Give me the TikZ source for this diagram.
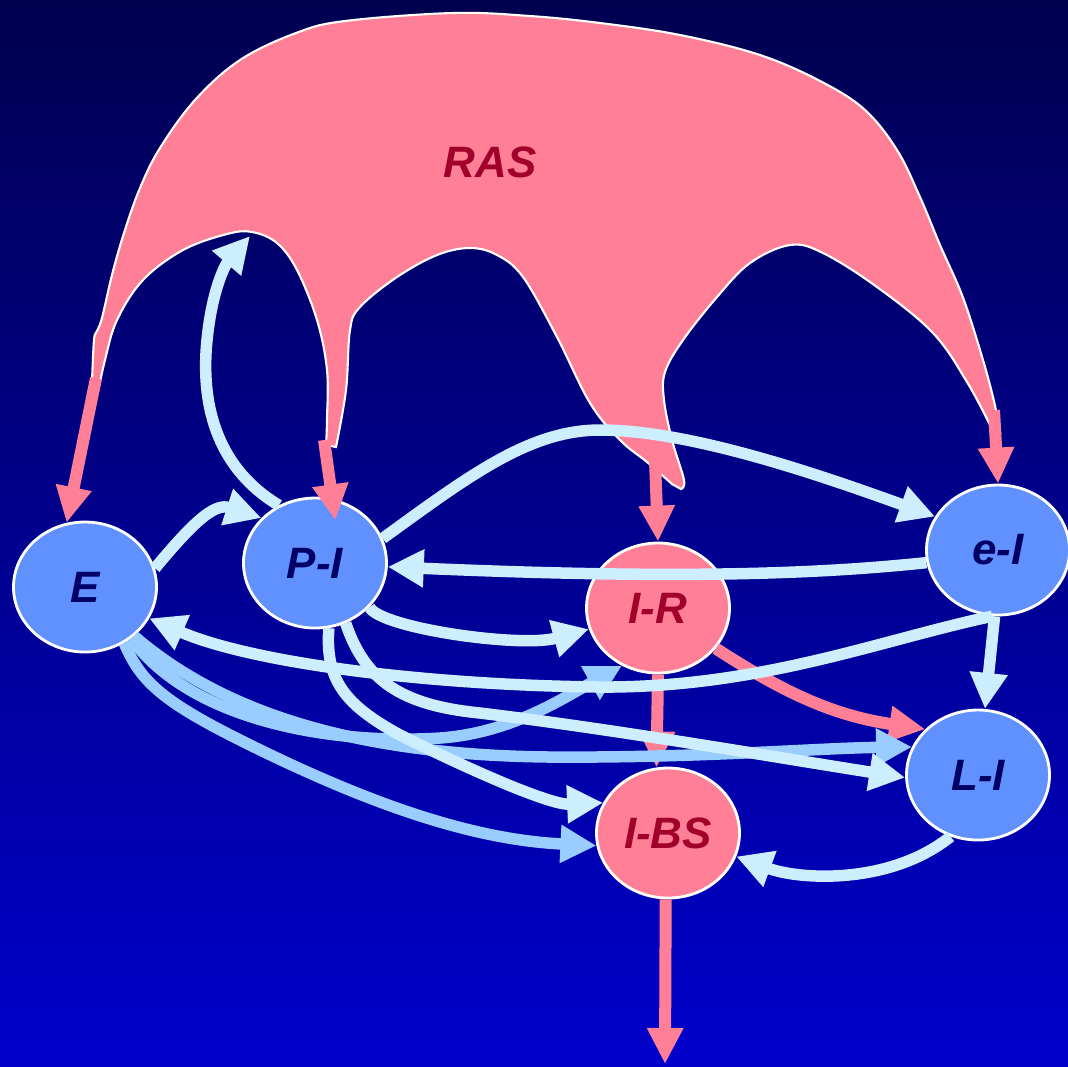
\documentclass[tikz,border=0pt]{standalone}
\usepackage{fontspec}
\setmainfont{Liberation Sans}
\usetikzlibrary{arrows.meta, shapes.geometric}
\definecolor{bgtop}{HTML}{000050}
\definecolor{bgbot}{HTML}{0000CC}
\definecolor{rascol}{HTML}{FF8096}
\definecolor{poolcol}{HTML}{6190FF}
\definecolor{navytxt}{HTML}{000066}
\definecolor{redtxt}{HTML}{A0002A}
\definecolor{lineA}{HTML}{CCEEFF}
\definecolor{lineB}{HTML}{99CCFF}
\tikzset{
  state/.style={ellipse, draw=white, line width=0.8pt, minimum width=14.3mm, minimum height=13mm, inner sep=0pt, font=\fontsize{12.5}{14}\selectfont\bfseries\itshape},
  pool/.style={state, fill=poolcol, text=navytxt},
  target/.style={state, fill=rascol, text=redtxt},
  ras/.style={fill=rascol, draw=white, line width=0.6pt},
  flow/.style={-{Triangle[length=3.6mm, width=3.6mm]}, line width=1.15mm, lineA},
  flowdk/.style={flow, lineB},
  action/.style={-{Triangle[length=3.6mm, width=3.4mm]}, line width=1.2mm, rascol},
}

\begin{document}
\begin{tikzpicture}[x=0.1mm, y=-0.1mm]
  \useasboundingbox (0,0) rectangle (1068,1066);
  \clip (0,0) rectangle (1068,1066);
  \shade[top color=bgtop, bottom color=bgbot] (0,0) rectangle (1068,1066);

  \filldraw[ras] plot[smooth, tension=0.6] coordinates {(92,382) (94,340) (97,331) (102,318) (112,275) (124,233) (140,188) (160,148) (195,100) (240,60) (296,33) (345,21) (453,13) (530,16) (600,23) (680,35) (760,55) (822,82) (865,110) (897,150) (920,197) (940,245) (962,295) (980,350) (993,397) (1000,432)}
    -- plot[smooth, tension=0.6] coordinates {(990,425) (967,382) (933,333) (877,287) (823,253) (790,245) (750,263) (717,297) (683,340) (665,372) (664,400) (672,440) (684,480) (681,489)}
    -- plot[smooth, tension=0.6] coordinates {(672,484) (647,462) (620,440) (590,403) (557,337) (523,277) (497,255) (470,248) (437,255) (397,277) (360,307) (350,330) (346,390) (336,447)}
    -- plot[smooth, tension=0.6] coordinates {(326,445) (327,420) (327,370) (317,320) (297,270) (277,243) (252,232) (227,234) (183,250) (143,280) (117,320) (105,360) (98,392)}
    -- cycle;
  \node[font=\fontsize{12.5}{14}\selectfont\bfseries\itshape, text=redtxt] (RAS) at (490,162) {RAS};

  \node[pool] (E) at (85,587) {E};
  \node[pool] (PI) at (315,563) {P-I};
  \node[target] (IR) at (658,608) {I-R};
  \node[pool] (eI) at (998,550) {e-I};
  \node[pool] (LI) at (978,775) {L-I};
  \node[target] (IBS) at (668,833) {I-BS};

  \coordinate (rasE) at (96,378);
  \coordinate (rasPI) at (324,440);
  \coordinate (rasIR) at (655,460);
  \coordinate (raseI) at (994,410);
  \coordinate (rasIn) at (250,236);
  \coordinate (out) at (665,1064);

  \draw[action] (rasE) -- (E.106);
  \draw[action, shorten >=-2.2mm] (rasPI) -- (PI.75);
  \draw[action] (rasIR) -- (IR.north);
  \draw[action] (raseI) -- (eI.north);
  \draw[action] (IR.-35) .. controls (780,690) and (830,715) .. (LI.139);
  \draw[action] (IR.south) -- (IBS.100);
  \draw[action] (IBS.-92) -- (out);

  \draw[flowdk] (E.-48) .. controls (190,720) and (330,745) .. (440,738) .. controls (510,733) and (560,700) .. (IR.238);
  \draw[flowdk] (E.-45) .. controls (220,710) and (350,755) .. (550,757) .. controls (700,758) and (820,748) .. (LI.157);
  \draw[flowdk] (E.-55) .. controls (140,680) and (160,700) .. (240,740) .. controls (380,810) and (480,840) .. (IBS.190);

  \draw[flow] (E.15) .. controls (195,520) and (215,503) .. (PI.140);
  \draw[flow] (PI.122) .. controls (220,470) and (200,410) .. (207,340) .. controls (212,290) and (225,265) .. (rasIn);
  \draw[flow] (PI.20) .. controls (470,475) and (530,430) .. (600,430) .. controls (690,430) and (820,475) .. (eI.152);
  \draw[flow] (eI.190) .. controls (800,576) and (650,578) .. (PI.-3);
  \draw[flow] (PI.-39) .. controls (380,628) and (520,648) .. (IR.197);
  \draw[flow] (eI.-95) .. controls (880,640) and (760,688) .. (600,687) .. controls (420,685) and (250,662) .. (E.-26);
  \draw[flow] (eI.-93) -- (LI.84);
  \draw[flow] (PI.-63) .. controls (365,680) and (400,705) .. (480,713) .. controls (620,730) and (780,758) .. (LI.182);
  \draw[flow] (PI.-78) .. controls (325,680) and (345,705) .. (400,735) .. controls (470,770) and (550,805) .. (IBS.155);
  \draw[flow] (LI.-114) .. controls (890,885) and (800,880) .. (IBS.-19);
\end{tikzpicture}
\end{document}
